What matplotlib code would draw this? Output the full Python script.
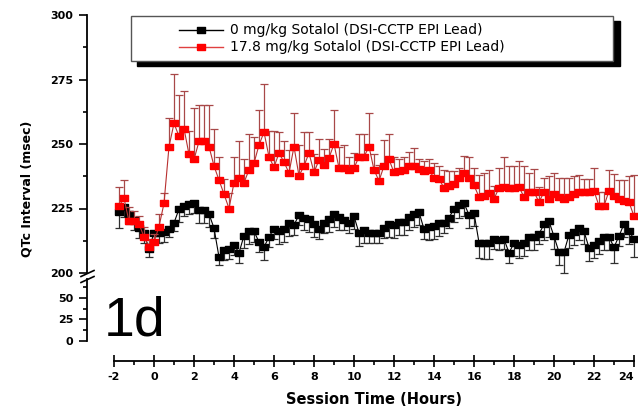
import numpy as np
import matplotlib
matplotlib.use("Agg")
import matplotlib.pyplot as plt
from matplotlib.patches import Rectangle
from matplotlib.lines import Line2D
from matplotlib.ticker import MultipleLocator

plt.rcParams['axes.unicode_minus'] = False
plt.rcParams['font.family'] = ['DejaVu Sans']

# sampling grid: every 15 min from -1.75 h to 24 h
session_hours = np.arange(-1.75, 24.01, 0.25)

# 0 mg/kg (vehicle), mean QTc and SEM (drawn downward)
qtc_vehicle = [
    223.6, 225.6, 222.9, 220.5, 217.4, 215.5, 209.3, 215.5, 215.5, 216,
    217, 219.4, 224.8, 226, 226.7, 227.1, 224.4, 224.4, 222.9, 217.4,
    206.2, 209, 209.3, 211, 207.8, 214.5, 216.2, 216.2, 212, 210,
    214, 217.2, 216.2, 217, 219.2, 218.6, 222.5, 221.5, 221, 219,
    217.2, 219.4, 221, 222.9, 221.7, 220.5, 219.4, 222, 215.5, 216.7,
    215.5, 215.5, 215.5, 217.4, 219, 218.6, 219.8, 219.8, 221.7, 222.9,
    223.6, 217, 217.8, 218.2, 219.4, 219.4, 221.5, 224.8, 226.2, 227.1,
    222.5, 223.3, 211.8, 211.6, 211.6, 213.2, 212.8, 213.2, 207.8, 211.6,
    210.7, 211.6, 214, 214, 215.2, 218.8, 220, 214.2, 208.1, 208.1,
    214.8, 215.7, 217.6, 216.1, 209.8, 210.9, 212.4, 214.1, 214, 210,
    214.3, 219, 216.3, 213.1]
qtc_vehicle_sem = [
    6, 4, 4, 4, 4, 4, 3, 3, 4, 4,
    3, 3, 5, 4, 4, 4, 5, 5, 5, 4,
    3, 4, 4, 4, 4, 5, 5, 4, 4, 5,
    4, 4, 5, 5, 5, 4, 4, 5, 5, 5,
    4, 4, 5, 5, 5, 4, 4, 5, 5, 5,
    4, 4, 4, 4, 5, 5, 5, 5, 5, 5,
    5, 4, 5, 5, 5, 4, 4, 5, 5, 5,
    5, 5, 6, 6, 6, 4, 4, 4, 4, 5,
    5, 5, 5, 5, 4, 6, 6, 5, 5, 8,
    5, 5, 5, 5, 5, 5, 5, 5, 5, 6,
    4, 5, 5, 7]

# 17.8 mg/kg sotalol, mean QTc and SEM (drawn upward)
qtc_sotalol = [
    226, 229, 220, 220, 219, 214, 210, 212, 218, 227,
    249, 258, 253, 256, 246, 244, 251, 251, 249, 241.5,
    236, 230.6, 225, 235, 237, 235, 240, 242.6, 249.6, 254.6,
    245, 241, 246.5, 243, 238.8, 249, 237.6, 241.5, 246.5, 239,
    243.8, 242, 244.6, 250, 240.7, 240.7, 240, 240.7, 245, 245,
    249, 240, 235.7, 241.5, 244, 239, 239.5, 240, 241.5, 241.5,
    240.3, 239.5, 240, 236.8, 236.4, 233, 233.7, 234.5, 236.8, 238.8,
    237, 234, 229.5, 229.8, 231, 228.7, 233, 233.3, 233, 233,
    233.3, 229.5, 231.4, 231.4, 227.5, 231.4, 228.7, 230.6, 229.5, 228.7,
    229.5, 230.6, 231.4, 231.4, 231.4, 231.8, 226, 226, 231.8, 229.8,
    228.7, 228, 227.5, 222]
qtc_sotalol_sem = [
    7.5, 7, 5.6, 4, 3, 4, 3, 3, 5, 4,
    11, 19, 16, 14.5, 9, 20, 14, 14, 16, 14.5,
    9, 6, 6, 10, 14, 9, 14, 10, 13.5, 18.5,
    10, 14, 8, 8, 9, 13, 12, 13, 8, 7,
    8, 6, 7.5, 13, 8, 9, 5, 6, 9, 9,
    13, 6, 6, 10, 10, 6, 4.5, 5, 5.5, 7,
    4, 4, 4, 6, 5, 7, 6, 5, 4, 6.6,
    8, 6.7, 8.5, 9, 9, 5, 7.7, 11.7, 8.5, 8.5,
    10, 12, 7.4, 9, 6, 5.6, 9, 8, 7.5, 8,
    7.5, 7, 6.6, 5, 5, 9, 5.4, 5.4, 8, 8.4,
    7.4, 8, 10, 16]

legend_labels = ["0 mg/kg Sotalol (DSI-CCTP EPI Lead)",
                 "17.8 mg/kg Sotalol (DSI-CCTP EPI Lead)"]
x_ticks = list(range(-2, 25, 2))
upper_ticks = [200, 225, 250, 275, 300]
lower_ticks = [0, 25, 50]

W, H = 638, 408


def fx(px):
    return px / W


def fy(py):
    return 1 - py / H


# slightly wide square marker, like the original export
rect = [(-1.3, -1), (1.3, -1), (1.3, 1), (-1.3, 1), (-1.3, -1)]

fig = plt.figure(figsize=(6.38, 4.08), dpi=100)
ax_top = fig.add_axes([fx(114), fy(273), fx(634) - fx(114), fy(15) - fy(273)])
ax_bot = fig.add_axes([fx(114), fy(341), fx(634) - fx(114), fy(279) - fy(341)])
for ax in (ax_top, ax_bot):
    ax.patch.set_visible(False)

zeros = np.zeros(len(session_hours))
ax_top.errorbar(session_hours, qtc_vehicle, yerr=[qtc_vehicle_sem, zeros],
                color='k', lw=0.8, marker=rect, ms=6, mfc='k', mec='k',
                ecolor='#303030', elinewidth=0.9, capsize=3, capthick=0.9,
                clip_on=False, zorder=3)
ax_top.errorbar(session_hours, qtc_sotalol, yerr=[zeros, qtc_sotalol_sem],
                color='#b83030', lw=0.8, marker=rect, ms=6, mfc='#ff0000',
                mec='#ff0000', ecolor='#a84848', elinewidth=0.9, capsize=3,
                capthick=0.9, clip_on=False, zorder=4)

# upper segment (200-300)
ax_top.set_xlim(-2, 24)
ax_top.set_ylim(200, 300)
ax_top.set_yticks(upper_ticks)
ax_top.yaxis.set_minor_locator(MultipleLocator(12.5))
ax_top.tick_params(axis='x', which='both', bottom=False, labelbottom=False)
for s in ('top', 'right', 'bottom'):
    ax_top.spines[s].set_visible(False)

# lower segment (0-50)
ax_bot.set_xlim(-2, 24)
ax_bot.set_ylim(0, 72)
ax_bot.set_yticks(lower_ticks)
ax_bot.yaxis.set_minor_locator(MultipleLocator(12.5))
ax_bot.set_xticks(x_ticks)
ax_bot.xaxis.set_minor_locator(MultipleLocator(1))
for s in ('top', 'right'):
    ax_bot.spines[s].set_visible(False)
ax_bot.spines['bottom'].set_position(('outward', 14.4))

for ax in (ax_top, ax_bot):
    ax.spines['left'].set_position(('outward', 19.4))
    ax.spines['left'].set_linewidth(1.3)
    ax.spines['bottom'].set_linewidth(1.3)
    ax.tick_params(axis='y', which='major', direction='out', length=6,
                   width=1.2, pad=4, labelsize=8)
    ax.tick_params(axis='y', which='minor', direction='out', length=3, width=1.2)
    for lbl in ax.get_yticklabels():
        lbl.set_fontweight('bold')
ax_bot.tick_params(axis='x', which='major', direction='inout', length=8,
                   width=1.2, pad=4, labelsize=8)
ax_bot.tick_params(axis='x', which='minor', direction='out', length=3, width=1.2)
xlabels = ax_bot.get_xticklabels()
for lbl in xlabels:
    lbl.set_fontweight('bold')
# last label sits at the right edge of the figure; keep it inside
xlabels[-1].set_horizontalalignment('right')

# axis break marks
for yc in (273.5, 279.5):
    fig.add_artist(Line2D([fx(81), fx(94)], [fy(yc + 3), fy(yc - 3)],
                          color='k', lw=1.2))

fig.text(fx(27), fy(189), "QTc Interval (msec)", rotation=90, ha='center',
         va='center', fontsize=9, fontweight='bold')
fig.text(fx(374), fy(399), "Session Time (Hours)", ha='center', va='center',
         fontsize=10.5, fontweight='bold')
fig.text(fx(104), fy(335), "1d", fontsize=40, family='Liberation Sans',
         va='baseline', ha='left')

# legend box with solid black drop shadow
fig.add_artist(Rectangle((fx(137), fy(66)), fx(620) - fx(137), fy(21) - fy(66),
                         transform=fig.transFigure, fc='k', ec='k', zorder=5))
fig.add_artist(Rectangle((fx(131), fy(61)), fx(613) - fx(131), fy(16) - fy(61),
                         transform=fig.transFigure, fc='white', ec='#555555',
                         lw=1, zorder=6))
entries = [(30, 'k', '#000000', legend_labels[0]),
           (47, '#e04040', '#ff0000', legend_labels[1])]
for ypx, lc, mc, label in entries:
    fig.add_artist(Line2D([fx(179), fx(201), fx(223)], [fy(ypx)] * 3,
                          color=lc, lw=1, marker=rect, ms=6, mfc=mc, mec=mc,
                          markevery=[1], zorder=7))
    fig.text(fx(230), fy(ypx), label, ha='left', va='center', fontsize=10,
             zorder=7)

fig.savefig("out.png", dpi=100)
